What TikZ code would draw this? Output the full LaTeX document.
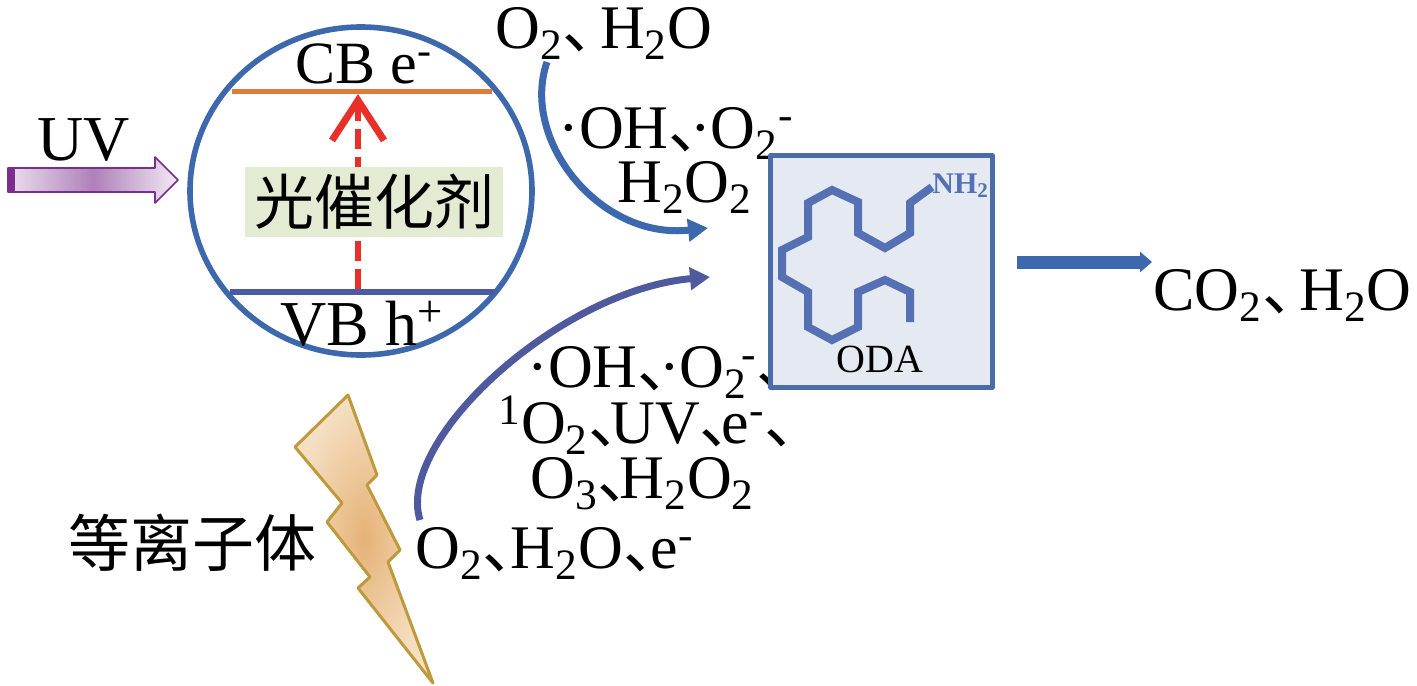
\documentclass[tikz,border=0pt]{standalone}
\usepackage{fontspec}
\setmainfont{Liberation Serif}
\newfontfamily\cjk{Noto Sans CJK SC}
\usetikzlibrary{arrows.meta}
\definecolor{ringblue}{HTML}{3D68AC}
\definecolor{cborange}{HTML}{E07A3A}
\definecolor{vbblue}{HTML}{4C5AA2}
\definecolor{exred}{HTML}{E8302A}
\definecolor{catgreen}{HTML}{E3ECD2}
\definecolor{uvpurple}{HTML}{7A2D8C}
\definecolor{odafill}{HTML}{E4E9F2}
\definecolor{odaedge}{HTML}{4A6CA8}
\definecolor{molblue}{HTML}{5571B4}
\definecolor{upblue}{HTML}{3E68AE}
\definecolor{lowblue}{HTML}{4F5A9E}
\definecolor{boltedge}{HTML}{BE9A3C}
\definecolor{boltin}{HTML}{E6B277}
\definecolor{boltout}{HTML}{F5DFC2}
\newcommand{\dun}[1][0.35em]{\makebox[#1][l]{\cjk 、}}
\begin{document}
\begin{tikzpicture}[x=0.5pt,y=-0.5pt,line join=round,
	lbl/.style={inner sep=0pt,anchor=base west,font=\fontsize{31}{37}\selectfont},
	hanzi/.style={inner sep=0pt,font=\cjk\fontsize{30}{36}\selectfont},
	curved/.style={line width=3.5pt,-{Triangle[length=10pt,width=11pt]}}]
	\useasboundingbox (0,0) rectangle (1417,685);
	% photocatalyst
	\draw[ringblue,line width=2.8pt] (361,191) ellipse (171 and 164);
	\draw[cborange,line width=2.5pt] (232,91)--(492,91);
	\draw[vbblue,line width=3pt] (230,292)--(495,292);
	\coordinate (vb) at (358,289);
	\coordinate (cb) at (358,94);
	\draw[exred,line width=3pt,dash pattern=on 10pt off 4pt,-{Straight Barb[length=20pt,width=26pt,line width=3.5pt]}] (vb)--(cb);
	\node[hanzi,fill=catgreen,minimum width=129pt,minimum height=35pt] (cat) at (374,202) {光催化剂};
	\node[lbl,font=\fontsize{30}{36}\selectfont] (cbl) at (295,83) {CB e\textsuperscript{-}};
	\node[lbl,font=\fontsize{32}{38}\selectfont] (vbl) at (280,345) {VB h\textsuperscript{+}};
	% UV
	\draw[uvpurple,line width=0.8pt,left color=uvpurple!15,right color=uvpurple!10,middle color=uvpurple!60]
		(8,168)--(155,168)--(155,157)--(178,180)--(155,203)--(155,192)--(8,192)--cycle;
	\fill[uvpurple] (8,168) rectangle (15,192);
	\node[lbl,font=\fontsize{32}{38}\selectfont] (uv) at (37,160) {UV};
	% labels
	\node[lbl] (top) at (495,48) {O\textsubscript{2}\dun[0.6em]H\textsubscript{2}O};
	\node[lbl] (mid1) at (558,148) {·OH\dun·O\textsubscript{2}\textsuperscript{-}};
	\node[lbl] (mid2) at (617,202) {H\textsubscript{2}O\textsubscript{2}};
	\node[lbl] (low1) at (527,387) {·OH\dun·O\textsubscript{2}\kern-0.1em\textsuperscript{-}\dun};
	\node[lbl] (low2) at (498,443) {\textsuperscript{1}O\textsubscript{2}\dun UV\dun e\textsuperscript{-}\dun};
	\node[lbl] (low3) at (530,498) {O\textsubscript{3}\dun H\textsubscript{2}O\textsubscript{2}};
	\node[lbl] (low4) at (415,568) {O\textsubscript{2}\dun[0.45em]H\textsubscript{2}O\dun[0.45em]e\textsuperscript{-}};
	\node[lbl] (prod) at (1153,310) {CO\textsubscript{2}\dun[0.6em]H\textsubscript{2}O};
	% plasma
	\draw[boltedge,line width=1.5pt,inner color=boltin,outer color=boltout]
		(348,395)--(377,475)--(367,485)--(400,550)--(388,562)--(433,683)--(358,588)
		--(370,577)--(327,522)--(342,503)--(295,447)--cycle;
	\node[hanzi,font=\cjk\fontsize{31}{36}\selectfont] (plasma) at (192,543) {等离子体};
	% ODA
	\node[draw=odaedge,fill=odafill,line width=2.5pt,minimum width=111pt,minimum height=116pt] (oda) at (881.5,271.5) {};
	\draw[molblue,line width=4pt,line join=miter]
		(932,187)--(910,203)--(910,233)--(885,248)--(858,233)--(858,202)--(832,190)--(808,203)
		--(808,237)--(782,250)--(782,277)--(808,292)--(808,327)--(832,340)--(858,327)
		--(858,292)--(885,280)--(910,292)--(910,322);
	\node[inner sep=0pt,anchor=base west,molblue,font=\bfseries\fontsize{15}{18}\selectfont] (nh2) at (932,193) {NH\textsubscript{2}};
	\node[inner sep=0pt,anchor=base,font=\fontsize{20}{24}\selectfont] (odal) at (880,372) {ODA};
	% arrows
	\coordinate (s1) at (547,62);
	\coordinate (t1) at (708,228);
	\draw[upblue,curved] (s1) .. controls (520,140) and (600,240) .. (t1);
	\coordinate (s2) at (420,520);
	\coordinate (t2) at (710,277);
	\draw[lowblue,curved] (s2) .. controls (395,440) and (560,290) .. (t2);
	\draw[upblue,line width=6.5pt,-{Triangle[length=6pt,width=10pt]}] ([xshift=11pt,yshift=4.75pt]oda.east)--(1152,262);
\end{tikzpicture}
\end{document}
